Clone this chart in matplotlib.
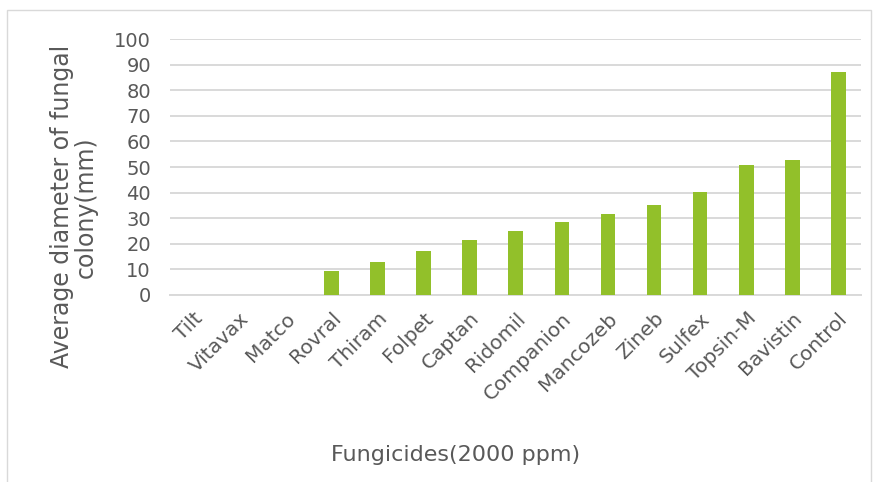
import matplotlib.pyplot as plt
from matplotlib.patches import Rectangle

fungicides = ["Tilt", "Vitavax", "Matco", "Rovral", "Thiram", "Folpet", "Captan",
              "Ridomil", "Companion", "Mancozeb", "Zineb", "Sulfex", "Topsin-M",
              "Bavistin", "Control"]
diameter_mm = [0, 0, 0, 9.5, 13.0, 17.1, 21.5, 25.0, 28.4, 31.6, 35.2, 40.3,
               50.6, 52.8, 87.2]
y_ticks = [0, 10, 20, 30, 40, 50, 60, 70, 80, 90, 100]

TEXT_COLOR = "#595959"
GRID_COLOR = "#d9d9d9"
BAR_COLOR = "#92c02a"

fig = plt.figure(figsize=(8.78, 4.82), dpi=100)
ax = fig.add_axes([0.194, 0.388, 0.787, 0.531])

ax.bar(range(len(fungicides)), diameter_mm, width=0.32, color=BAR_COLOR,
       zorder=3)
ax.set_xlim(-0.5, len(fungicides) - 0.5)
ax.set_ylim(0, 100)
ax.set_yticks(y_ticks)
ax.grid(True, axis="y", color=GRID_COLOR, linewidth=1.4, zorder=0)

for side in ("top", "right", "left"):
    ax.spines[side].set_visible(False)
ax.spines["bottom"].set_color(GRID_COLOR)
ax.spines["bottom"].set_linewidth(1.4)
ax.tick_params(length=0, colors=TEXT_COLOR)
ax.tick_params(axis="y", labelsize=14, pad=14)

ax.set_xticks(range(len(fungicides)))
ax.set_xticklabels(fungicides, rotation=45, ha="right", rotation_mode="anchor",
                   fontsize=14.5, color=TEXT_COLOR)
ax.tick_params(axis="x", pad=10)

# y label sits lower than the axes centre in the original
fig.text(0.084, 0.571, "Average diameter of fungal\ncolony(mm)", fontsize=17,
         color=TEXT_COLOR, rotation=90, ha="center", va="center",
         multialignment="center", linespacing=1.0)
fig.text(0.519, 0.055, "Fungicides(2000 ppm)", fontsize=16, color=TEXT_COLOR,
         ha="center", va="center")

fig.add_artist(Rectangle((0.008, -0.01), 0.984, 0.99, transform=fig.transFigure,
                         fill=False, edgecolor=GRID_COLOR, linewidth=1))

fig.savefig("out.png", dpi=100)
